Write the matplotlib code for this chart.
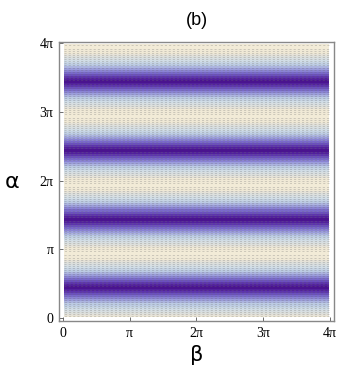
import numpy as np
import matplotlib
matplotlib.use("Agg")
import matplotlib.pyplot as plt
from matplotlib.colors import LinearSegmentedColormap

# dark band centres (alpha, in units of pi)
dark_centres = [0.44, 1.44, 2.44, 3.44]
band_period = 1.0  # distance between dark bands, in pi
n_levels = 18

tick_values = [0, 1, 2, 3, 4]
tick_labels = ["0", "π", "2π", "3π", "4π"]

# colours, dark (centre of band) to light (between bands)
colour_stops = [0.0, 0.12, 0.25, 0.38, 0.5, 0.62, 0.75, 0.85, 1.0]
band_colours = ["#460d88", "#5526a2", "#7462c8", "#9a9bdb", "#bccbe3",
                "#d2dee6", "#dedfda", "#efe8d5", "#f3ecd8"]
cmap = LinearSegmentedColormap.from_list("bands", list(zip(colour_stops, band_colours)))

beta = np.linspace(0.02, 3.98, 60)
alpha = np.linspace(0.02, 3.98, 1200)
B, A = np.meshgrid(beta, alpha)
dist = np.min([np.abs(A - c) for c in dark_centres], axis=0)
dist = np.minimum(dist, band_period - dist)
Z = dist / (band_period / 2)

fig = plt.figure(figsize=(3.39, 3.73), dpi=100)
ax = fig.add_axes([0.174, 0.139, 0.811, 0.748])

levels = np.linspace(0, 1, n_levels)
fill_levels = levels.copy()
fill_levels[0], fill_levels[-1] = -0.01, 1.01
ax.contourf(B, A, Z, levels=fill_levels, cmap=cmap)
ax.contour(B, A, Z, levels=levels[1:-1], colors="#6e6e6e", linewidths=0.5,
           alpha=0.4, linestyles=[(0, (3, 3))])

ax.set_xlim(-0.06, 4.06)
ax.set_ylim(-0.045, 4.015)
ax.set_xticks(tick_values)
ax.set_xticklabels(tick_labels, family="Liberation Serif", fontsize=10)
ax.set_yticks(tick_values)
ax.set_yticklabels(tick_labels, family="Liberation Serif", fontsize=10)
ax.tick_params(direction="in", length=3, width=0.6, color="#555555", pad=4)
for spine in ax.spines.values():
    spine.set_color("#888888")
    spine.set_linewidth(1.0)

ax.set_xlabel("β", family="DejaVu Sans", fontsize=15, labelpad=4)
ax.set_ylabel("α", family="DejaVu Sans", fontsize=16, rotation=0, labelpad=20, va="center")
ax.set_title("(b)", family="Liberation Sans", fontsize=13, pad=12)

fig.savefig("out.png", dpi=100)
